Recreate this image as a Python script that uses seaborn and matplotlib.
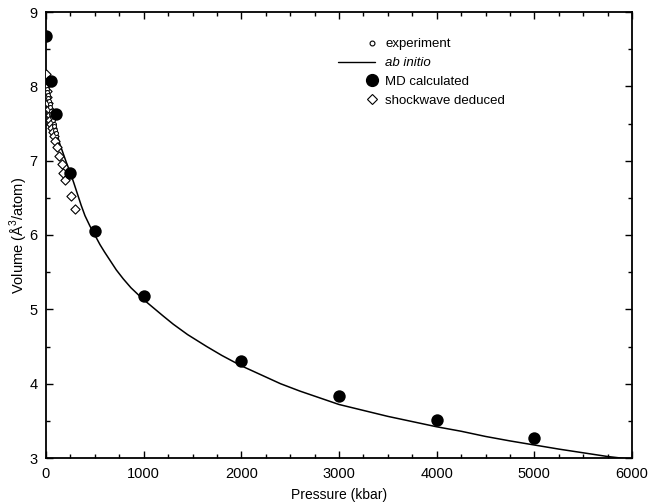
import matplotlib
matplotlib.use("Agg")
import matplotlib.pyplot as plt
import seaborn as sns
import pandas as pd
import numpy as np
from matplotlib.lines import Line2D
from matplotlib.legend_handler import HandlerLine2D
from matplotlib.ticker import MultipleLocator

# ---- data ----
md_p = [0, 50, 100, 250, 500, 1000, 2000, 3000, 4000, 5000]
md_v = [8.68, 8.07, 7.63, 6.84, 6.06, 5.18, 4.305, 3.83, 3.51, 3.265]

abinit_p = [0, 10, 25, 45, 70, 110, 140, 175, 210, 246, 285, 320, 360, 399,
            450, 500, 553, 600, 650, 720, 791, 870, 950, 1000, 1100, 1200,
            1303, 1450, 1645, 1800, 2000, 2200, 2400, 2600, 2800, 3000, 3250,
            3500, 3750, 4000, 4250, 4500, 4750, 5000, 5250, 5500, 5750, 5950]
abinit_v = [8.02, 7.93, 7.83, 7.68, 7.53, 7.37, 7.23, 7.10, 6.97, 6.85, 6.70,
            6.56, 6.40, 6.26, 6.12, 6.00, 5.87, 5.77, 5.67, 5.53, 5.41, 5.29,
            5.19, 5.13, 5.02, 4.91, 4.80, 4.66, 4.50, 4.38, 4.24, 4.12, 4.00,
            3.90, 3.81, 3.72, 3.64, 3.56, 3.49, 3.42, 3.36, 3.29, 3.23, 3.175,
            3.12, 3.07, 3.02, 2.99]

exp_p = [0, 4, 8, 13, 18, 24, 30, 36, 42, 49, 56, 63, 70, 78, 86, 95, 104]
exp_v = [8.05, 8.00, 7.96, 7.92, 7.88, 7.84, 7.80, 7.76, 7.72, 7.67, 7.63,
         7.59, 7.55, 7.50, 7.46, 7.41, 7.37]

shock_p = [0, 4, 9, 14, 20, 28, 36, 45, 54, 63, 72, 82, 95, 109, 136, 160,
           177, 194, 252, 297]
shock_v = [8.17, 8.02, 7.94, 7.86, 7.78, 7.70, 7.62, 7.55, 7.49, 7.44, 7.39,
           7.33, 7.27, 7.18, 7.06, 6.95, 6.84, 6.74, 6.52, 6.35]

legend_labels = ["experiment", "ab initio", "MD calculated", "shockwave deduced"]

sns.set_style("ticks")
plt.rcParams['font.family'] = ['Liberation Sans', 'DejaVu Sans']
plt.rcParams['mathtext.fontset'] = 'custom'
plt.rcParams['mathtext.rm'] = 'Liberation Sans'
plt.rcParams['text.color'] = 'black'
plt.rcParams['axes.labelcolor'] = 'black'
plt.rcParams['xtick.color'] = 'black'
plt.rcParams['ytick.color'] = 'black'

fig = plt.figure(figsize=(6.5, 5.04), dpi=100)
ax = fig.add_axes([46 / 650, 46 / 504, (632 - 46) / 650, (458 - 12) / 504])

df_ab = pd.DataFrame({"P": abinit_p, "V": abinit_v})
df_md = pd.DataFrame({"P": md_p, "V": md_v})
df_exp = pd.DataFrame({"P": exp_p, "V": exp_v})
df_sh = pd.DataFrame({"P": shock_p, "V": shock_v})

sns.lineplot(data=df_ab, x="P", y="V", ax=ax, color="black", lw=1.1,
             estimator=None, sort=False, zorder=2)
sns.scatterplot(data=df_sh, x="P", y="V", ax=ax, marker="D", s=22,
                facecolor="white", edgecolor="black", linewidth=0.8, zorder=3)
sns.scatterplot(data=df_exp, x="P", y="V", ax=ax, marker="o", s=8,
                facecolor="white", edgecolor="black", linewidth=0.7, zorder=4)
sns.scatterplot(data=df_md, x="P", y="V", ax=ax, marker="o", s=80,
                color="black", edgecolor="black", linewidth=0, zorder=5)

ax.set_xlim(0, 6000)
ax.set_ylim(3, 9)
ax.xaxis.set_major_locator(MultipleLocator(1000))
ax.xaxis.set_minor_locator(MultipleLocator(250))
ax.yaxis.set_major_locator(MultipleLocator(1))
ax.yaxis.set_minor_locator(MultipleLocator(0.5))
ax.tick_params(which="both", direction="in", top=True, right=True,
               labelsize=10.5, width=1.0, color="black", labelcolor="black")
ax.tick_params(axis="y", pad=6)
ax.tick_params(axis="x", pad=6.5)
ax.tick_params(which="major", length=5)
ax.tick_params(which="minor", length=3)
for sp in ax.spines.values():
    sp.set_linewidth(1.3)
    sp.set_color("black")

ax.set_xlabel("Pressure (kbar)", fontsize=10, labelpad=5)
ax.set_ylabel("Volume (Å$^{3}$/atom)", fontsize=10.5, labelpad=-0.5)


class RightMarkerHandler(HandlerLine2D):
    def create_artists(self, legend, orig_handle, xdescent, ydescent,
                       width, height, fontsize, trans):
        y = (height - ydescent) / 2
        x0, x1 = -xdescent, -xdescent + width
        line = Line2D([x0, x1], [y, y])
        self.update_prop(line, orig_handle, legend)
        line.set_marker("None")
        mk = Line2D([x1 - 0.2 * fontsize], [y])
        self.update_prop(mk, orig_handle, legend)
        mk.set_linestyle("None")
        line.set_transform(trans)
        mk.set_transform(trans)
        return [line, mk]


handles = [
    Line2D([], [], ls="none", marker="o", ms=3.5, mfc="white", mec="black", mew=0.8),
    Line2D([], [], ls="-", color="black", lw=1.0),
    Line2D([], [], ls="none", marker="o", ms=8.5, mfc="black", mec="black"),
    Line2D([], [], ls="none", marker="D", ms=5, mfc="white", mec="black", mew=0.8),
]
leg = ax.legend(handles, legend_labels, loc="upper left",
                bbox_to_anchor=(0.478, 0.968), frameon=False, fontsize=9.5,
                handlelength=2.8, handletextpad=0.8, labelspacing=0.5,
                numpoints=1,
                handler_map={h: RightMarkerHandler() for h in handles})
leg.get_texts()[1].set_fontstyle("italic")

fig.savefig("out.png", dpi=100)
